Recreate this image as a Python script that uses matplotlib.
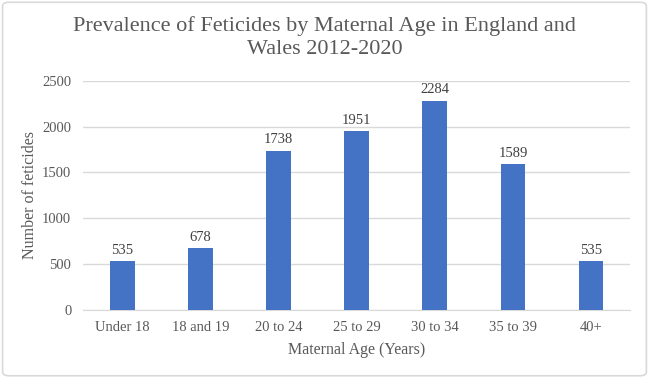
import matplotlib.pyplot as plt
from matplotlib.patches import FancyBboxPatch

# data
age_groups = ["Under 18", "18 and 19", "20 to 24", "25 to 29", "30 to 34", "35 to 39", "40+"]
feticides = [535, 678, 1738, 1951, 2284, 1589, 535]
y_ticks = [0, 500, 1000, 1500, 2000, 2500]

plt.rcParams['font.family'] = ['Liberation Serif', 'DejaVu Serif']

fig = plt.figure(figsize=(6.49, 3.78), dpi=100)
ax = fig.add_axes([0.128, 0.180, 0.843, 0.6065])

x = range(len(age_groups))
bars = ax.bar(x, feticides, width=0.316, color="#4472C4", zorder=3)

for b, v in zip(bars, feticides):
    ax.text(b.get_x() + b.get_width() / 2, v + 45, str(v), ha="center", va="bottom",
            fontsize=10.5, color="#404040")

ax.set_xlim(-0.5, len(age_groups) - 0.5)
ax.set_ylim(0, 2500)
ax.set_yticks(y_ticks)
ax.set_xticks(list(x))
ax.set_xticklabels(age_groups)
ax.tick_params(axis="both", length=0, labelsize=10.5, colors="#595959")
ax.tick_params(axis="y", pad=8.5)
ax.tick_params(axis="x", pad=8)
ax.grid(axis="y", color="#d9d9d9", linewidth=1, zorder=0)
for s in ["top", "right", "left"]:
    ax.spines[s].set_visible(False)
ax.spines["bottom"].set_color("#d9d9d9")

ax.set_xlabel("Maternal Age (Years)", fontsize=11.5, color="#595959", labelpad=6)
ax.set_ylabel("Number of feticides", fontsize=11.5, color="#595959", labelpad=3)

fig.text(0.5, 0.9, "Prevalence of Feticides by Maternal Age in England and\nWales 2012-2020",
         ha="center", va="center", fontsize=16, color="#595959", linespacing=1.3)

# chart border
border = FancyBboxPatch((0.004, 0.006), 0.992, 0.988, boxstyle="round,pad=0,rounding_size=0.01",
                        transform=fig.transFigure, fill=False, edgecolor="#d9d9d9", linewidth=1.2)
fig.patches.append(border)

fig.savefig("out.png", dpi=100)
